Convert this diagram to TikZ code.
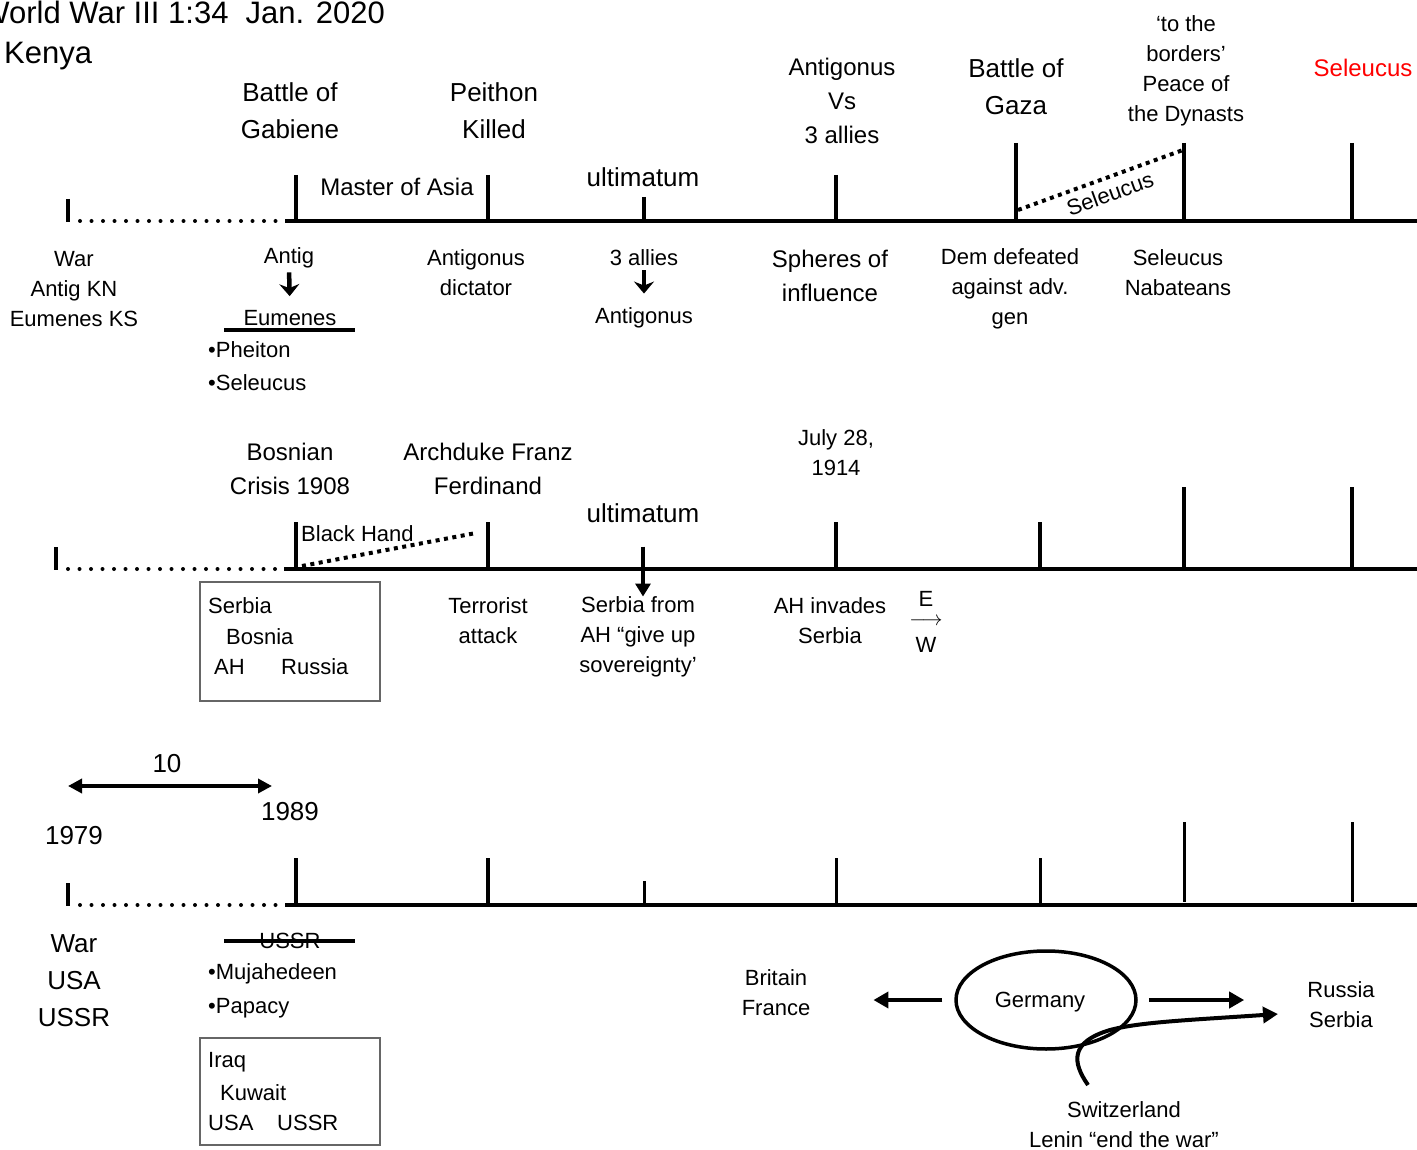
\documentclass[tikz,border=0pt]{standalone}
\usepackage{fontspec}
\setmainfont{Liberation Sans}
\usetikzlibrary{arrows.meta,shapes.geometric}

\tikzset{
  lbig/.style={font=\fontsize{26}{37}\selectfont, align=center, inner sep=0pt},
  lmid/.style={font=\fontsize{24}{34}\selectfont, align=center, inner sep=0pt},
  lsmall/.style={font=\fontsize{22}{30}\selectfont, align=center, inner sep=0pt},
  axis/.style={line width=4pt},
  tick/.style={line width=3.5pt},
  dots/.style={line width=4pt, line cap=round, dash pattern=on 0pt off 11.5pt},
  sqdots/.style={line width=4pt, dash pattern=on 4pt off 4.5pt},
  fatarrow/.style={line width=4.5pt, -{Stealth[length=12pt,width=20pt,inset=4pt]}},
  bigarrow/.style={line width=4.5pt, -{Triangle[length=15pt,width=16pt]}},
  grid box/.style={draw=black!60, line width=1.5pt}
}

\begin{document}
\begin{tikzpicture}[x=1pt, y=-1pt]
  \useasboundingbox (0,0) rectangle (1417,1150);

  % title
  \node[font=\fontsize{31}{43}\selectfont, inner sep=0pt, anchor=east] (title) at (385,12) {World War III 1:34\ \ Jan. 2020};
  \node[font=\fontsize{31}{43}\selectfont, inner sep=0pt, anchor=west] (kenya) at (4,56) {Kenya};

  % line 1
  \draw [tick] (68, 199) -- (68, 222);
  \draw [dots] (80, 221) -- (283, 221);
  \draw [axis] (285, 221) -- (1417, 221);
  \draw [tick] (296, 175) -- (296, 221);
  \draw [tick] (488, 175) -- (488, 221);
  \draw [tick] (644, 197) -- (644, 221);
  \draw [tick] (836, 175) -- (836, 221);
  \draw [tick] (1016, 143) -- (1016, 221);
  \draw [tick] (1184, 143) -- (1184, 221);
  \draw [tick] (1352, 143) -- (1352, 221);
  \draw [sqdots] (1018, 210) -- (1183, 150);
  \node[lsmall, rotate=20] (sel1) at (1110, 194) {Seleucus};

  \node[lbig] (gabiene) at (290, 111) {Battle of\\Gabiene};
  \node[lbig] (peithon) at (494, 111) {Peithon\\Killed};
  \node[lmid] (master) at (397, 187) {Master of Asia};
  \node[lbig] (ult1) at (643, 177) {ultimatum};
  \node[lmid] (allies) at (842, 101) {Antigonus\\Vs\\3 allies};
  \node[lbig] (gaza) at (1016, 87) {Battle of\\Gaza};
  \node[lsmall] (dynasts) at (1186, 71) {‘to the\\borders’\\Peace of\\the Dynasts};
  \node[lmid, text=red] (selred) at (1363, 68) {Seleucus};

  \node[lsmall] (war1) at (74, 289) {War\\Antig KN\\Eumenes KS};
  \node[lsmall] (antig) at (289, 258) {Antig};
  \node[lsmall] (eumenes) at (290, 318) {Eumenes};
  \draw [fatarrow, shorten <=4pt, shorten >=14pt] (antig.south) -- (eumenes.north);
  \draw [line width=4pt] (224, 330) -- (355, 330);
  \node[lsmall, anchor=west] (pheiton) at (208, 350) {•Pheiton};
  \node[lsmall, anchor=west] (seleucus) at (208, 383) {•Seleucus};
  \node[lsmall] (dictator) at (476, 273) {Antigonus\\dictator};
  \node[lsmall] (allies2) at (644, 258) {3 allies};
  \node[lsmall] (antigonus) at (644, 318) {Antigonus};
  \draw [fatarrow, shorten <=4pt, shorten >=14pt] (allies2.south) -- (antigonus.north);
  \node[lmid] (spheres) at (830, 276) {Spheres of\\influence};
  \node[lsmall] (dem) at (1010, 289) {Dem defeated\\against adv.\\gen};
  \node[lsmall] (nabateans) at (1178, 273) {Seleucus\\Nabateans};

  % line 2
  \draw [tick] (56, 547) -- (56, 570);
  \draw [dots] (68, 569) -- (278, 569);
  \draw [axis] (284, 569) -- (1417, 569);
  \draw [tick] (296, 522) -- (296, 569);
  \draw [tick] (488, 522) -- (488, 569);
  \draw [tick] (836, 522) -- (836, 569);
  \draw [tick] (1040, 522) -- (1040, 569);
  \draw [tick] (1184, 487) -- (1184, 569);
  \draw [tick] (1352, 487) -- (1352, 569);
  \draw [sqdots] (302, 566) -- (476, 533);

  \node[lmid] (bosnian) at (290, 469) {Bosnian\\Crisis 1908};
  \node[lmid] (archduke) at (488, 469) {Archduke Franz\\Ferdinand\hspace{14pt}};
  \node[lbig] (ult2) at (643, 513) {ultimatum};
  \node[lsmall] (july) at (836, 453) {July 28,\\1914};
  \node[lsmall, anchor=west] (hand) at (301, 534) {Black Hand};

  \draw [grid box] (200, 582) rectangle (380, 701);
  \node[lsmall, anchor=west] (serbia) at (208, 606) {Serbia};
  \node[lsmall, anchor=west] (bosnia) at (226, 637) {Bosnia};
  \node[lsmall, anchor=west] (ah) at (214, 667) {AH};
  \node[lsmall, anchor=west] (russia) at (281, 667) {Russia};

  \node[lsmall] (terrorist) at (488, 621) {Terrorist\\attack};
  \node[lsmall] (sfrom) at (638, 637) {Serbia from\\AH “give up\\sovereignty’};
  \draw [line width=3.5pt, -{Triangle[length=13pt,width=15pt]}, shorten <=24pt] (ult2.south) -- (ult2.south |- sfrom.north);
  \node[lsmall] (invades) at (830, 621) {AH invades\\Serbia};
  \node[lsmall] (east) at (926, 599) {E};
  \node[lsmall] (ew) at (926, 622) {$\longrightarrow$};
  \node[lsmall] (west) at (926, 645) {W};

  % line 3
  \coordinate (y79) at (68, 786);
  \coordinate (y89) at (272, 786);
  \draw [line width=3.5pt, {Triangle[length=14pt,width=14pt]}-{Triangle[length=14pt,width=14pt]}] (y79) -- (y89);
  \node[lbig] (ten) at (167, 764) {10};
  \node[lbig] (n1989) at (290, 812) {1989};
  \node[lbig] (n1979) at (74, 836) {1979};

  \draw [tick] (68, 883) -- (68, 906);
  \draw [dots] (80, 905) -- (283, 905);
  \draw [axis] (285, 905) -- (1417, 905);
  \draw [tick] (296, 858) -- (296, 905);
  \draw [tick] (488, 858) -- (488, 905);
  \draw [line width=3pt] (644, 881) -- (644, 905);
  \draw [line width=3pt] (836, 858) -- (836, 905);
  \draw [line width=3pt] (1040, 858) -- (1040, 905);
  \draw [line width=3pt] (1184, 822) -- (1184, 902);
  \draw [line width=3pt] (1352, 822) -- (1352, 902);

  \node[lbig] (war3) at (74, 981) {War\\USA\\USSR};
  \node[lsmall] (ussr) at (290, 941) {USSR};
  \draw [line width=4pt] (224, 941) -- (355, 941);
  \node[lsmall, anchor=west] (mujahedeen) at (208, 974) {•Mujahedeen};
  \node[lsmall, anchor=west] (papacy) at (208, 1008) {•Papacy};

  \draw [grid box] (200, 1038) rectangle (380, 1145);
  \node[lsmall, anchor=west] (iraq) at (208, 1062) {Iraq};
  \node[lsmall, anchor=west] (kuwait) at (220, 1093) {Kuwait};
  \node[lsmall, anchor=west] (usa) at (208, 1123) {USA};
  \node[lsmall, anchor=west] (ussr2) at (277, 1123) {USSR};

  \node[lsmall] (britain) at (776, 993) {Britain\\France};
  \node[draw, ellipse, line width=3.5pt, minimum width=180pt, minimum height=98pt] (germany) at (1046, 1000) {};
  \node[lsmall] (gertext) at (1040, 1002) {Germany};
  \node[lsmall] (rusia) at (1341, 1005) {Russia\\Serbia};
  \node[lsmall] (swiss) at (1124, 1125) {Switzerland\\Lenin “end the war”};
  \draw [bigarrow, shorten <=12pt, shorten >=63pt] (germany.west) -- (britain.east |- germany.west);
  \draw [bigarrow, shorten <=11pt, shorten >=63pt] (germany.east) -- (rusia.west |- germany.east);
  \coordinate (curl) at (1088, 1085);
  \draw [line width=4pt, -{Triangle[length=15pt,width=16pt]}] (curl) .. controls (1072, 1062) and (1070, 1042) .. (1110, 1030)
    .. controls (1140, 1022) and (1190, 1020) .. (1278, 1014);
\end{tikzpicture}
\end{document}
